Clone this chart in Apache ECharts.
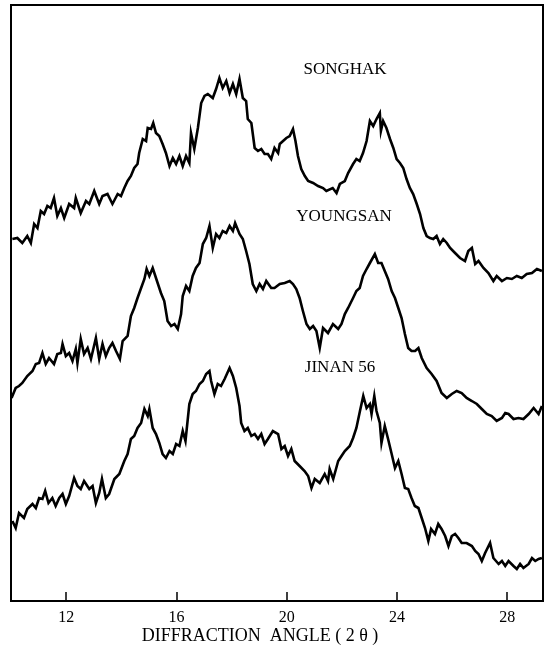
<!DOCTYPE html>
<html>
<head>
<meta charset="utf-8">
<script src="https://cdn.jsdelivr.net/npm/echarts@6/dist/echarts.min.js"></script>
<style>
  html, body { margin: 0; padding: 0; background: #fff; }
  #chart { width: 550px; height: 647px; }
</style>
</head>
<body>
<div id="chart"></div>
<script>
// x-ray diffraction traces, intensity in arbitrary units (stacked offsets as drawn)
var tickValues = [12, 16, 20, 24, 28]
var traceNames = ['SONGHAK', 'YOUNGSAN', 'JINAN 56']

var songhakAngle = [10.05, 10.23, 10.41, 10.59, 10.72, 10.84, 10.96, 11.08, 11.2, 11.32, 11.44, 11.56, 11.68, 11.81, 11.93, 12.11, 12.29, 12.35, 12.53, 12.72,
  12.84, 13.02, 13.2, 13.32, 13.5, 13.68, 13.87, 13.99, 14.11, 14.23, 14.35, 14.47, 14.59, 14.65, 14.78, 14.9, 14.96, 15.08, 15.16, 15.26,
  15.38, 15.5, 15.62, 15.75, 15.87, 15.99, 16.11, 16.23, 16.35, 16.47, 16.53, 16.65, 16.78, 16.9, 17.02, 17.14, 17.2, 17.32, 17.44, 17.56,
  17.68, 17.81, 17.93, 18.05, 18.17, 18.29, 18.41, 18.53, 18.59, 18.72, 18.84, 18.96, 19.08, 19.2, 19.32, 19.44,
  19.56, 19.69, 19.75, 19.87, 19.99, 20.11, 20.23, 20.32, 20.41, 20.53, 20.66, 20.78, 20.96, 21.14, 21.32, 21.44, 21.67, 21.81, 21.93, 22.11,
  22.23, 22.41, 22.53, 22.65, 22.77, 22.9, 23.02, 23.14, 23.26, 23.38, 23.42, 23.5, 23.62, 23.75, 23.87, 23.99, 24.11, 24.23, 24.35, 24.47,
  24.59, 24.72, 24.84, 24.96, 25.08, 25.2, 25.32, 25.44, 25.56, 25.68, 25.81, 25.93, 26.11, 26.29, 26.47, 26.59, 26.72, 26.84, 26.96, 27.14,
  27.32, 27.5, 27.62, 27.81, 27.99, 28.17, 28.35, 28.53, 28.71, 28.9, 29.08, 29.26]
var songhakIntensity = [362, 363, 358, 365, 358, 377, 373, 390, 387, 395, 393, 403, 385, 393, 383, 397, 393, 403, 388, 400,
  397, 410, 397, 405, 407, 397, 407, 405, 413, 420, 425, 433, 437, 448, 462, 460, 473, 472, 478, 468,
  465, 457, 448, 435, 443, 437, 445, 435, 445, 438, 468, 452, 473, 498, 505, 507, 508, 503, 512, 523,
  513, 520, 508, 517, 507, 522, 503, 500, 482, 478, 453, 450, 452, 447, 447, 442,
  453, 448, 457, 460, 463, 465, 472, 460, 445, 432, 425, 420, 418, 415, 413, 410, 413, 408, 417, 420,
  428, 437, 442, 440, 448, 460, 480, 475, 482, 488, 470, 480, 473, 462, 453, 442, 438, 433, 422, 413,
  407, 397, 387, 373, 365, 363, 362, 365, 357, 362, 358, 353, 348, 343, 340, 350, 353, 337, 340, 333,
  328, 320, 325, 320, 323, 322, 325, 323, 327, 328, 332, 330]

var youngsanAngle = [10.02, 10.17, 10.29, 10.41, 10.59, 10.78, 10.9, 11.02, 11.14, 11.26, 11.38, 11.56, 11.68, 11.81, 11.87, 11.99, 12.11, 12.23, 12.35, 12.41,
  12.53, 12.65, 12.78, 12.9, 13.08, 13.2, 13.32, 13.44, 13.56, 13.68, 13.81, 13.95, 14.05, 14.23, 14.35, 14.47, 14.59, 14.72, 14.84, 14.92,
  15.02, 15.14, 15.2, 15.32, 15.44, 15.56, 15.68, 15.81, 15.93, 16.05, 16.17, 16.23, 16.35, 16.47, 16.59, 16.71, 16.84, 16.96, 17.08, 17.2,
  17.32, 17.44, 17.56, 17.68, 17.81, 17.93, 18.05, 18.13, 18.29, 18.41, 18.53, 18.65, 18.77, 18.9, 19.02, 19.14, 19.26, 19.44,
  19.56, 19.75, 19.93, 20.11, 20.23, 20.35, 20.47, 20.59, 20.72, 20.84, 20.96, 21.08, 21.2, 21.32, 21.5, 21.68, 21.87, 21.99, 22.11, 22.23,
  22.41, 22.53, 22.65, 22.77, 22.9, 23.02, 23.2, 23.32, 23.44, 23.56, 23.68, 23.81, 23.93, 24.05, 24.17, 24.29, 24.41, 24.53, 24.66, 24.78,
  24.9, 25.08, 25.26, 25.44, 25.62, 25.81, 25.99, 26.17, 26.35, 26.53, 26.72, 26.9, 27.08, 27.26, 27.44, 27.62, 27.81, 27.93, 28.05, 28.23,
  28.41, 28.59, 28.78, 28.96, 29.14, 29.26]
var youngsanIntensity = [203, 213, 215, 218, 225, 230, 237, 238, 248, 237, 243, 237, 247, 248, 257, 245, 248, 240, 252, 238,
  262, 247, 253, 242, 263, 242, 257, 245, 253, 258, 250, 242, 260, 265, 285, 293, 303, 313, 322, 332,
  325, 333, 328, 318, 308, 300, 280, 275, 277, 272, 287, 305, 315, 310, 325, 333, 338, 357, 363, 375,
  353, 367, 363, 370, 368, 375, 370, 378, 367, 362, 350, 337, 317, 310, 317, 312, 320, 313,
  313, 317, 318, 320, 317, 312, 303, 290, 277, 272, 275, 270, 253, 273, 268, 277, 272, 277, 287, 293,
  303, 310, 313, 325, 332, 338, 347, 338, 338, 330, 322, 310, 303, 293, 283, 267, 253, 250, 250, 253,
  243, 233, 227, 220, 208, 203, 207, 210, 208, 203, 200, 197, 192, 187, 185, 180, 183, 188, 187, 182,
  183, 182, 187, 193, 187, 195]

var jinanAngle = [10.05, 10.17, 10.29, 10.47, 10.59, 10.78, 10.9, 11.02, 11.14, 11.24, 11.36, 11.5, 11.62, 11.75, 11.87, 11.99, 12.11, 12.29, 12.41, 12.53,
  12.65, 12.84, 12.96, 13.08, 13.2, 13.3, 13.44, 13.56, 13.75, 13.93, 14.11, 14.23, 14.35, 14.47, 14.59, 14.72, 14.84, 14.96, 15.02, 15.14,
  15.26, 15.38, 15.5, 15.62, 15.75, 15.87, 15.99, 16.11, 16.23, 16.33, 16.47, 16.59, 16.71, 16.84, 16.96, 17.08, 17.2, 17.26, 17.38, 17.5,
  17.62, 17.75, 17.93, 18.05, 18.17, 18.29, 18.35, 18.47, 18.59, 18.72, 18.84, 18.96, 19.08, 19.2, 19.32, 19.5,
  19.56, 19.69, 19.81, 19.93, 20.05, 20.17, 20.29, 20.47, 20.65, 20.78, 20.9, 21.02, 21.2, 21.38, 21.5, 21.56, 21.69, 21.87, 21.99, 22.11,
  22.29, 22.41, 22.53, 22.66, 22.78, 22.9, 23.02, 23.08, 23.18, 23.26, 23.38, 23.44, 23.56, 23.68, 23.81, 23.93, 24.05, 24.17, 24.29, 24.41,
  24.53, 24.65, 24.78, 24.9, 25.02, 25.14, 25.24, 25.38, 25.5, 25.62, 25.75, 25.87, 25.99, 26.11, 26.23, 26.35, 26.53, 26.72, 26.84, 26.96,
  27.08, 27.2, 27.38, 27.5, 27.69, 27.81, 27.93, 28.05, 28.23, 28.35, 28.47, 28.59, 28.78, 28.9, 29.02, 29.14, 29.26]
var jinanIntensity = [80, 73, 88, 83, 92, 97, 93, 103, 102, 110, 98, 103, 95, 103, 107, 97, 105, 123, 115, 112,
  120, 112, 115, 98, 108, 122, 103, 107, 122, 127, 140, 147, 162, 165, 173, 178, 192, 185, 192, 173,
  167, 158, 147, 143, 150, 147, 157, 155, 170, 160, 197, 207, 210, 217, 220, 227, 230, 220, 207, 217,
  215, 222, 233, 225, 213, 195, 178, 170, 173, 165, 167, 162, 167, 157, 162, 170,
  168, 167, 152, 155, 145, 152, 140, 135, 130, 125, 113, 122, 118, 127, 120, 132, 122, 140, 145, 150,
  155, 163, 173, 190, 205, 193, 197, 187, 205, 190, 178, 158, 175, 162, 147, 133, 140, 127, 113, 112,
  103, 95, 93, 83, 73, 60, 72, 67, 77, 72, 65, 55, 65, 67, 63, 58, 58, 55, 50, 47,
  40, 48, 58, 43, 37, 40, 35, 40, 35, 32, 37, 33, 37, 43, 40, 42, 43]

var SERIF = '"Liberation Serif", "DejaVu Serif", serif'

function pairs (xs, ys) {
  return xs.map(function (x, i) { return [x, ys[i]] })
}

function trace (name, xs, ys) {
  return {
    name: name,
    type: 'line',
    data: pairs(xs, ys),
    symbol: 'none',
    smooth: false,
    silent: true,
    lineStyle: { color: '#000', width: 2.6, join: 'miter' }
  }
}

var chart = echarts.init(document.getElementById('chart'), null, { renderer: 'canvas' })

var option = {
  animation: false,
  backgroundColor: '#fff',
  grid: {
    left: 11,
    right: 7,
    top: 5,
    bottom: 46,
    show: true,
    borderColor: '#000',
    borderWidth: 2
  },
  xAxis: {
    type: 'value',
    min: 10,
    max: 29.3,
    axisLine: { show: true, lineStyle: { color: '#000', width: 2 } },
    axisTick: {
      show: true,
      inside: true,
      length: 9,
      customValues: tickValues,
      lineStyle: { color: '#000', width: 1.5 }
    },
    axisLabel: {
      customValues: tickValues,
      margin: 9,
      color: '#000',
      fontFamily: SERIF,
      fontSize: 16
    },
    splitLine: { show: false }
  },
  yAxis: {
    type: 'value',
    min: 0,
    max: 596,
    show: false,
    splitLine: { show: false }
  },
  series: [
    trace(traceNames[0], songhakAngle, songhakIntensity),
    trace(traceNames[1], youngsanAngle, youngsanIntensity),
    trace(traceNames[2], jinanAngle, jinanIntensity)
  ],
  graphic: [
    { type: 'text', x: 345, y: 70, style: { text: traceNames[0], fill: '#000', font: '17px ' + SERIF, align: 'center', verticalAlign: 'middle' } },
    { type: 'text', x: 344, y: 217, style: { text: traceNames[1], fill: '#000', font: '17px ' + SERIF, align: 'center', verticalAlign: 'middle' } },
    { type: 'text', x: 340, y: 368, style: { text: traceNames[2], fill: '#000', font: '17px ' + SERIF, align: 'center', verticalAlign: 'middle' } },
    { type: 'text', x: 260, y: 636, style: { text: 'DIFFRACTION  ANGLE ( 2 θ )', fill: '#000', font: '18px ' + SERIF, align: 'center', verticalAlign: 'middle' } }
  ]
}

chart.setOption(option)
</script>
</body>
</html>
